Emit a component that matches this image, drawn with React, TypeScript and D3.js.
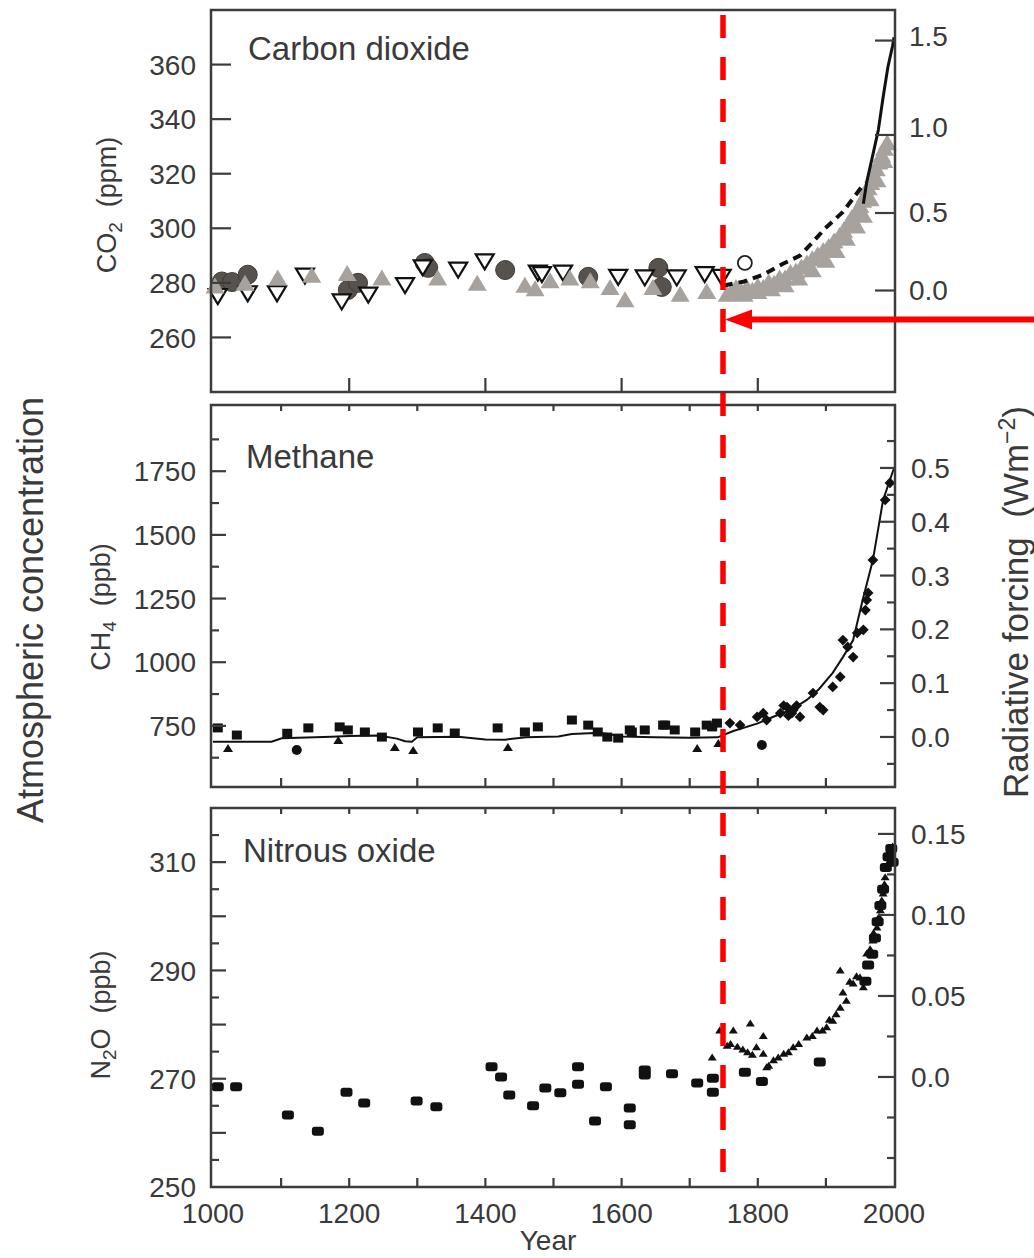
import React from 'react';
import * as d3 from 'd3';

const FONT = '"Liberation Sans", Arial, Helvetica, sans-serif';
const TXT = '#3a3a3a';
const AX = '#3c3c3c';

// ---------- axis values ----------
const yearLabels = [1000, 1200, 1400, 1600, 1800, 2000];
const yearTop = [1200, 1400, 1600, 1800];
const yearEvery100 = [1100, 1200, 1300, 1400, 1500, 1600, 1700, 1800, 1900];

const co2Ticks = [260, 280, 300, 320, 340, 360];
const co2RFValues = [0, 0.5, 1.0, 1.5];
const co2RFLabels = ['0.0', '0.5', '1.0', '1.5'];
const co2RFTickPpm = [277.2, 305.6, 334.2, 368.8];
const co2RFLabelPpm = [277.4, 306.0, 337.0, 370.5];

const ch4Ticks = [750, 1000, 1250, 1500, 1750];
const ch4Minor = [625, 875, 1125, 1375, 1625, 1875];
const ch4RFTicks = [0, 0.1, 0.2, 0.3, 0.4, 0.5];
const ch4RFMinor = [-0.05, 0.05, 0.15, 0.25, 0.35, 0.45, 0.55];

const n2oMajor = [260, 270, 280, 290, 300, 310];
const n2oMinor = [255, 265, 275, 285, 295, 305, 315];
const n2oLabels = [250, 270, 290, 310];
const n2oRFTicks = [0, 0.05, 0.1, 0.15];
const n2oRFLabels = ['0.0', '0.05', '0.10', '0.15'];
const n2oRFMinor = [-0.05, -0.025, 0.025, 0.075, 0.125];

// ---------- CO2 data (year, ppm) ----------
const co2OpenTriangles: [number, number][] = [
  [1007, 275], [1051, 276], [1094, 276], [1135, 282.5], [1189, 273], [1228, 275.5],
  [1282, 279], [1308, 285.5], [1360, 284.7], [1399, 287.7], [1477, 283.6], [1483, 283],
  [1514, 283.6], [1595, 282], [1634, 281.8], [1681, 281.8], [1722, 283], [1747, 282],
];
const co2DarkCircles: [number, number][] = [
  [1013, 280.5], [1028, 280.3], [1051, 283], [1198, 277.4], [1213, 280], [1311, 287.3],
  [1316, 285.5], [1429, 284.7], [1551, 282.2], [1654, 285.5], [1659, 278.5],
];
const co2OpenCircles: [number, number][] = [[1781, 287.3]];
const co2GrayTriangles: [number, number][] = [
  [1003, 279], [1047, 280], [1095, 282], [1145, 283], [1197, 283.6], [1248, 282],
  [1330, 282], [1388, 280], [1458, 279.3], [1473, 278], [1495, 281], [1524, 282],
  [1554, 281], [1583, 278.5], [1605, 274], [1646, 278.5], [1686, 276], [1725, 277],
  [1755, 276], [1760, 276.5], [1768, 278.5], [1776, 277], [1784, 278.5], [1792, 277.5],
  [1800, 279], [1808, 278.5], [1816, 280.5], [1824, 280], [1832, 282], [1840, 282],
  [1848, 284], [1856, 284.5], [1864, 286], [1872, 287.5], [1880, 289], [1888, 290.5],
  [1896, 292], [1904, 293.5], [1912, 295.5], [1920, 297.5], [1926, 299.5], [1932, 301.5],
  [1938, 304], [1944, 305.5], [1950, 308.5], [1954, 310.5], [1958, 312.5], [1962, 315],
  [1966, 317], [1970, 319.5], [1974, 322], [1978, 324.5], [1982, 327], [1986, 329.5],
  [1990, 331.5], [1780, 276], [1800, 277], [1820, 278], [1840, 279.5], [1860, 282],
  [1880, 285], [1900, 288.5], [1915, 292], [1930, 296.5], [1945, 301], [1955, 305],
  [1965, 311], [1975, 318], [1985, 325],
];
const co2DashedCurve: [number, number][] = [
  [1750, 279], [1780, 280.5], [1808, 283], [1837, 287], [1862, 290], [1881, 295],
  [1899, 300], [1925, 306], [1943, 312], [1955, 316],
];
const co2DirectCurve: [number, number][] = [
  [1955, 309], [1960, 317], [1969, 327], [1977, 336], [1984, 348], [1991, 359],
  [1998, 367], [2000, 370],
];

// ---------- CH4 data (year, ppb) ----------
const ch4Curve: [number, number][] = [
  [1000, 688], [1086, 688], [1101, 701], [1174, 707], [1200, 710], [1243, 712],
  [1270, 700], [1282, 690], [1292, 688], [1300, 705], [1360, 707], [1400, 697],
  [1429, 696], [1460, 705], [1507, 708], [1527, 718], [1560, 722], [1576, 720],
  [1600, 708], [1649, 705], [1700, 703], [1741, 705], [1764, 730], [1800, 760],
  [1822, 785], [1850, 815], [1872, 852], [1890, 895], [1910, 958], [1925, 1020],
  [1940, 1087], [1954, 1244], [1969, 1401], [1984, 1637], [1998, 1747], [2000, 1760],
];
const ch4Squares: [number, number][] = [
  [1007, 742], [1035, 714], [1109, 721], [1140, 742], [1186, 746], [1198, 734],
  [1223, 726], [1248, 706], [1301, 726], [1330, 742], [1355, 722], [1418, 742],
  [1458, 726], [1477, 746], [1527, 773], [1551, 753], [1565, 726], [1579, 706],
  [1595, 702], [1612, 734], [1615, 726], [1634, 734], [1661, 753], [1664, 753],
  [1678, 734], [1708, 726], [1725, 753], [1733, 746], [1740, 761],
];
const ch4Triangles: [number, number][] = [
  [1022, 663], [1184, 695], [1267, 667], [1294, 655], [1433, 667], [1711, 663], [1742, 683],
];
const ch4Blobs: [number, number][] = [[1123, 655], [1806, 675]];
const ch4Modern: [number, number][] = [
  [1759, 761], [1774, 753], [1799, 785], [1808, 800], [1813, 773], [1833, 800],
  [1838, 830], [1843, 824], [1845, 790], [1850, 800], [1852, 812], [1857, 830],
  [1862, 785], [1881, 879], [1891, 824], [1896, 812], [1910, 903], [1921, 942],
  [1925, 1087], [1932, 1060], [1940, 1020], [1946, 1115], [1955, 1127], [1958, 1205],
  [1960, 1244], [1962, 1272], [1969, 1401], [1987, 1637], [1994, 1704],
];

// ---------- N2O data (year, ppb) ----------
const n2oBlobs: [number, number][] = [
  [1007, 268.5], [1034, 268.5], [1110, 263.3], [1154, 260.3], [1196, 267.5], [1222, 265.5],
  [1299, 265.9], [1328, 264.8], [1409, 272.2], [1423, 270.3], [1435, 267], [1470, 265],
  [1488, 268.3], [1510, 267.4], [1536, 272.2], [1536, 269], [1561, 262.2], [1577, 268.5],
  [1612, 264.6], [1612, 261.5], [1634, 271.6], [1634, 270.7], [1674, 270.9], [1711, 269.2],
  [1734, 270.1], [1734, 267.5], [1781, 271.2], [1806, 269.5], [1891, 273.1],
  [1958, 288], [1962, 291], [1968, 293], [1972, 296], [1976, 299], [1980, 302],
  [1984, 305], [1988, 309], [1992, 311], [1996, 312.5], [1998, 310],
];
const n2oTriangles: [number, number][] = [
  [1733, 274], [1744, 279], [1755, 276.2], [1760, 276.5], [1764, 279], [1770, 276],
  [1778, 275.5], [1785, 275], [1789, 280.3], [1792, 274.5], [1798, 275.9], [1808, 278],
  [1808, 274.7], [1813, 272.2], [1808, 269.8], [1816, 272.5], [1823, 273.5], [1830, 274],
  [1838, 274.7], [1845, 275], [1852, 275.9], [1860, 276.5], [1872, 277.7], [1880, 278],
  [1887, 279], [1895, 279], [1901, 279.6], [1905, 281], [1910, 280.8], [1915, 282],
  [1921, 283.2], [1925, 286], [1930, 284.5], [1921, 290.1], [1935, 288], [1940, 287.7],
  [1945, 289], [1950, 288.8], [1955, 287], [1960, 293.2], [1965, 294], [1969, 295.6],
  [1970, 297], [1975, 298], [1978, 300], [1980, 301.2], [1982, 303], [1984, 304.3],
  [1986, 306], [1987, 307.3], [1990, 311], [1990, 309], [1992, 310], [1994, 312.2],
  [1996, 312], [1998, 313],
];

const upTri = (cx: number, cy: number, w: number, h: number) =>
  `M${cx},${cy - h / 2}L${cx + w / 2},${cy + h / 2}L${cx - w / 2},${cy + h / 2}Z`;
const downTri = (cx: number, cy: number, w: number, h: number) =>
  `M${cx - w / 2},${cy - h / 2}L${cx + w / 2},${cy - h / 2}L${cx},${cy + h / 2}Z`;

export default function App() {
  const W = 1034, H = 1258;
  const L = 211, R = 895;
  const x = d3.scaleLinear().domain([1000, 2000]).range([213, 894]);
  const yCO2 = d3.scaleLinear().domain([240, 380]).range([392, 10]);
  const yCH4 = d3.scaleLinear().domain([510, 2010]).range([787, 405]);
  const yN2O = d3.scaleLinear().domain([250, 320]).range([1187, 808]);
  const rfCO2 = d3.scaleLinear().domain(co2RFValues).range(co2RFTickPpm.map((v) => yCO2(v)));
  const rfCO2Lab = d3.scaleLinear().domain(co2RFValues).range(co2RFLabelPpm.map((v) => yCO2(v)));
  const rfCH4 = d3.scaleLinear().domain([-0.093, 0.617]).range([787, 405]);
  const rfN2O = d3.scaleLinear().domain([-0.0679, 0.166]).range([1187, 808]);

  const lineCO2 = d3.line<[number, number]>().x((d) => x(d[0])).y((d) => yCO2(d[1]));
  const lineCH4 = d3.line<[number, number]>().x((d) => x(d[0])).y((d) => yCH4(d[1]));

  const panels = [
    { top: yCO2.range()[1], bottom: yCO2.range()[0] },
    { top: yCH4.range()[1], bottom: yCH4.range()[0] },
    { top: yN2O.range()[1], bottom: yN2O.range()[0] },
  ];

  const tickStyle = { stroke: AX, strokeWidth: 2.2 };
  const tickText = { fontFamily: FONT, fontSize: 28, fill: TXT } as const;

  return (
    <svg width={W} height={H} style={{ position: 'absolute', left: 0, top: 0, background: '#fff' }}>
      <rect x={0} y={0} width={W} height={H} fill="#fff" />

      {/* ---------- CO2 panel ---------- */}
      <g>
        {co2DarkCircles.map((d, i) => (
          <circle key={'dc' + i} cx={x(d[0])} cy={yCO2(d[1])} r={9.5} fill="#57524d" stroke="#3f3b37" strokeWidth={1} />
        ))}
        {co2OpenTriangles.map((d, i) => (
          <path key={'ot' + i} d={downTri(x(d[0]), yCO2(d[1]), 18, 15)} fill="#fff" stroke="#111" strokeWidth={2.2} />
        ))}
        {co2GrayTriangles.map((d, i) => (
          <path key={'gt' + i} d={upTri(x(d[0]), yCO2(d[1]), 19, 16)} fill="#a7a29d" />
        ))}
        {co2OpenCircles.map((d, i) => (
          <circle key={'oc' + i} cx={x(d[0])} cy={yCO2(d[1])} r={7} fill="#fff" stroke="#222" strokeWidth={1.8} />
        ))}
        <path d={lineCO2(co2DashedCurve) || ''} fill="none" stroke="#111" strokeWidth={4} strokeDasharray="9 6" />
        <path d={lineCO2(co2DirectCurve) || ''} fill="none" stroke="#111" strokeWidth={3} />
      </g>

      {/* ---------- CH4 panel ---------- */}
      <g>
        <path d={lineCH4(ch4Curve) || ''} fill="none" stroke="#111" strokeWidth={2} />
        {ch4Squares.map((d, i) => (
          <rect key={'cs' + i} x={x(d[0]) - 5} y={yCH4(d[1]) - 4.5} width={10} height={9} fill="#111" />
        ))}
        {ch4Triangles.map((d, i) => (
          <path key={'ct' + i} d={upTri(x(d[0]), yCH4(d[1]), 10, 8)} fill="#111" />
        ))}
        {ch4Blobs.map((d, i) => (
          <circle key={'cb' + i} cx={x(d[0])} cy={yCH4(d[1])} r={5} fill="#111" />
        ))}
        {ch4Modern.map((d, i) => (
          <rect key={'cm' + i} x={x(d[0]) - 3.8} y={yCH4(d[1]) - 3.8} width={7.6} height={7.6} fill="#111"
            transform={`rotate(45 ${x(d[0])} ${yCH4(d[1])})`} />
        ))}
      </g>

      {/* ---------- N2O panel ---------- */}
      <g>
        {n2oBlobs.map((d, i) => (
          <rect key={'nb' + i} x={x(d[0]) - 6} y={yN2O(d[1]) - 4.5} width={12} height={9} rx={3} fill="#111" />
        ))}
        {n2oTriangles.map((d, i) => (
          <path key={'nt' + i} d={upTri(x(d[0]), yN2O(d[1]), 9, 7)} fill="#111" />
        ))}
      </g>

      {/* ---------- frames ---------- */}
      {panels.map((p, i) => (
        <rect key={'f' + i} x={L} y={p.top} width={R - L} height={p.bottom - p.top} fill="none" stroke={AX} strokeWidth={2.5} />
      ))}

      {/* CO2 axes */}
      {co2Ticks.map((v) => (
        <g key={'c2t' + v}>
          <line x1={L} x2={L + 20} y1={yCO2(v)} y2={yCO2(v)} {...tickStyle} />
          <text x={196} y={yCO2(v)} dy="0.36em" textAnchor="end" {...tickText}>{v}</text>
        </g>
      ))}
      {co2RFValues.map((v, i) => (
        <g key={'c2r' + v}>
          <line x1={R - 20} x2={R} y1={rfCO2(v)} y2={rfCO2(v)} {...tickStyle} />
          <text x={909} y={rfCO2Lab(v)} dy="0.36em" textAnchor="start" {...tickText}>{co2RFLabels[i]}</text>
        </g>
      ))}
      {yearTop.map((v) => (
        <line key={'c2x' + v} x1={x(v)} x2={x(v)} y1={panels[0].bottom} y2={panels[0].bottom - 14} {...tickStyle} />
      ))}

      {/* CH4 axes */}
      {ch4Ticks.map((v) => (
        <g key={'c4t' + v}>
          <line x1={L} x2={L + 15} y1={yCH4(v)} y2={yCH4(v)} {...tickStyle} />
          <text x={196} y={yCH4(v)} dy="0.36em" textAnchor="end" {...tickText}>{v}</text>
        </g>
      ))}
      {ch4Minor.map((v) => (
        <line key={'c4m' + v} x1={L} x2={L + 8} y1={yCH4(v)} y2={yCH4(v)} {...tickStyle} />
      ))}
      {ch4RFTicks.map((v) => (
        <g key={'c4r' + v}>
          <line x1={R - 15} x2={R} y1={rfCH4(v)} y2={rfCH4(v)} {...tickStyle} />
          <text x={911} y={rfCH4(v)} dy="0.36em" textAnchor="start" {...tickText}>{v.toFixed(1)}</text>
        </g>
      ))}
      {ch4RFMinor.map((v) => (
        <line key={'c4rm' + v} x1={R - 8} x2={R} y1={rfCH4(v)} y2={rfCH4(v)} {...tickStyle} />
      ))}
      {yearEvery100.map((v) => (
        <g key={'c4x' + v}>
          <line x1={x(v)} x2={x(v)} y1={panels[1].top} y2={panels[1].top + 6} {...tickStyle} />
          <line x1={x(v)} x2={x(v)} y1={panels[1].bottom} y2={panels[1].bottom - 9} {...tickStyle} />
        </g>
      ))}

      {/* N2O axes */}
      {n2oMajor.map((v) => (
        <line key={'n2t' + v} x1={L} x2={L + 15} y1={yN2O(v)} y2={yN2O(v)} {...tickStyle} />
      ))}
      {n2oMinor.map((v) => (
        <line key={'n2m' + v} x1={L} x2={L + 8} y1={yN2O(v)} y2={yN2O(v)} {...tickStyle} />
      ))}
      {n2oLabels.map((v) => (
        <text key={'n2l' + v} x={196} y={yN2O(v)} dy="0.36em" textAnchor="end" {...tickText}>{v}</text>
      ))}
      {n2oRFTicks.map((v, i) => (
        <g key={'n2r' + v}>
          <line x1={R - 17} x2={R} y1={rfN2O(v)} y2={rfN2O(v)} {...tickStyle} />
          <text x={911} y={rfN2O(v)} dy="0.36em" textAnchor="start" {...tickText}>{n2oRFLabels[i]}</text>
        </g>
      ))}
      {n2oRFMinor.map((v) => (
        <line key={'n2rm' + v} x1={R - 8} x2={R} y1={rfN2O(v)} y2={rfN2O(v)} {...tickStyle} />
      ))}
      {yearEvery100.map((v) => (
        <g key={'n2x' + v}>
          <line x1={x(v)} x2={x(v)} y1={panels[2].top} y2={panels[2].top + 6} {...tickStyle} />
          <line x1={x(v)} x2={x(v)} y1={panels[2].bottom} y2={panels[2].bottom - 9} {...tickStyle} />
        </g>
      ))}
      {yearLabels.map((v) => (
        <text key={'yl' + v} x={x(v)} y={1223} textAnchor="middle" {...tickText}>{v}</text>
      ))}

      {/* titles */}
      <text x={248} y={60} fontFamily={FONT} fontSize={33} fill={TXT}>Carbon dioxide</text>
      <text x={246} y={468} fontFamily={FONT} fontSize={33} fill={TXT}>Methane</text>
      <text x={243} y={862} fontFamily={FONT} fontSize={33} fill={TXT}>Nitrous oxide</text>

      {/* axis labels */}
      <text x={548} y={1250} textAnchor="middle" fontFamily={FONT} fontSize={28} fill={TXT}>Year</text>
      <text transform="translate(116,205) rotate(-90)" textAnchor="middle" fontFamily={FONT} fontSize={27} fill={TXT} style={{ whiteSpace: 'pre' }}>
        CO<tspan dy={6} fontSize={19}>2</tspan><tspan dy={-6}>{'  (ppm)'}</tspan>
      </text>
      <text transform="translate(110,607) rotate(-90)" textAnchor="middle" fontFamily={FONT} fontSize={27} fill={TXT} style={{ whiteSpace: 'pre' }}>
        CH<tspan dy={6} fontSize={19}>4</tspan><tspan dy={-6}>{'  (ppb)'}</tspan>
      </text>
      <text transform="translate(110,1015) rotate(-90)" textAnchor="middle" fontFamily={FONT} fontSize={27} fill={TXT} style={{ whiteSpace: 'pre' }}>
        N<tspan dy={6} fontSize={19}>2</tspan><tspan dy={-6}>{'O  (ppb)'}</tspan>
      </text>
      <text transform="translate(43,610) rotate(-90)" textAnchor="middle" fontFamily={FONT} fontSize={36} fill={TXT}>
        Atmospheric concentration
      </text>
      <text transform="translate(1028,602) rotate(-90)" textAnchor="middle" fontFamily={FONT} fontSize={35} fill={TXT} style={{ whiteSpace: 'pre' }}>
        {'Radiative forcing  (Wm'}<tspan dy={-13} fontSize={23}>−2</tspan><tspan dy={13}>)</tspan>
      </text>

      {/* red annotations */}
      <line x1={723} x2={723} y1={15} y2={1175} stroke="#ff0000" strokeWidth={5.5} strokeDasharray="23 19" />
      <line x1={1034} x2={748} y1={319.5} y2={319.5} stroke="#ff0000" strokeWidth={6} />
      <path d="M725,319.5L752,309.5L752,329.5Z" fill="#ff0000" />
    </svg>
  );
}
